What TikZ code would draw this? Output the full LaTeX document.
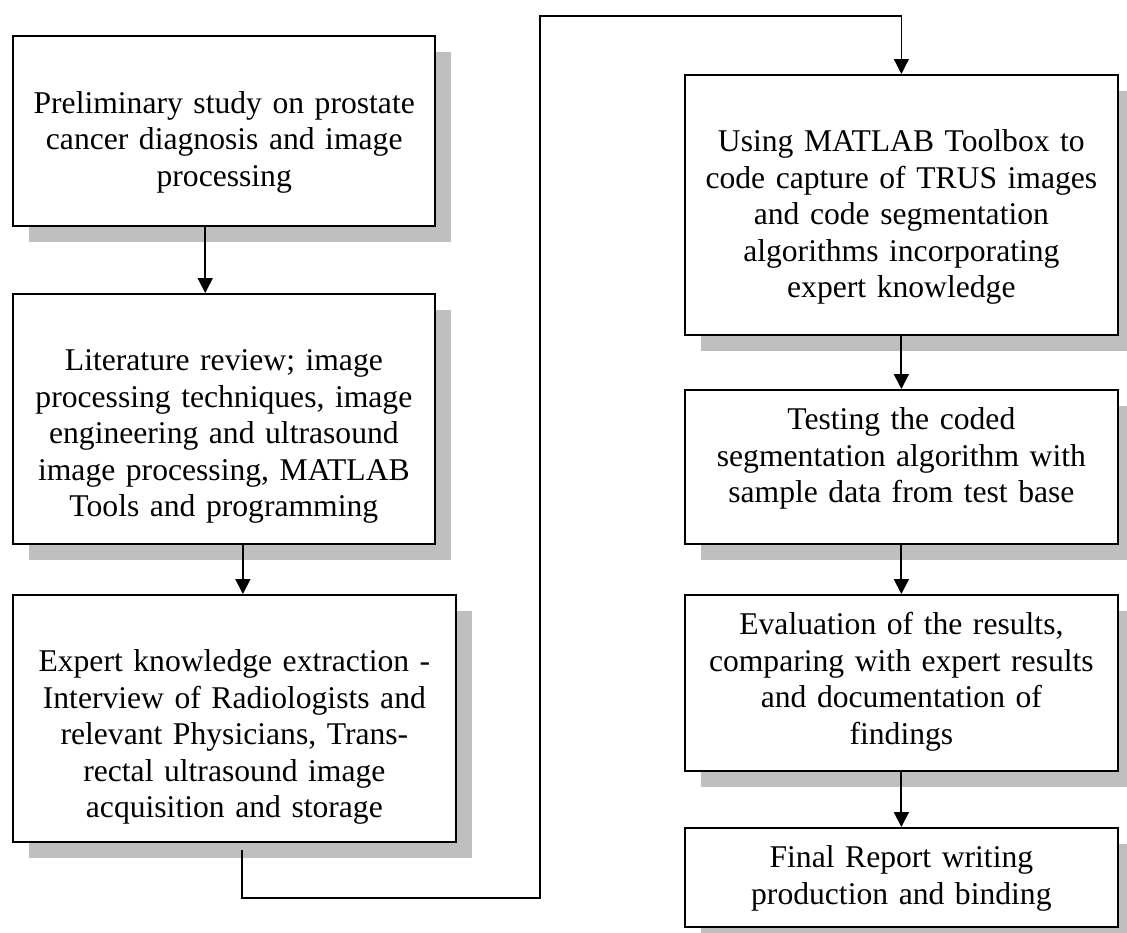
\documentclass[tikz,border=0pt]{standalone}
\usepackage{fontspec}
\setmainfont{Liberation Serif}
\usetikzlibrary{arrows.meta,shadows}

\tikzset{
    stepbox/.style={draw, line width=1pt, fill=white, align=center, inner sep=0pt,
        anchor=north west, text height=0.8cm,
        font=\fontsize{18}{20.77}\selectfont,
        drop shadow={shadow xshift=0.32cm, shadow yshift=-0.32cm, fill=black!25, opacity=1}},
    gapbox/.style={stepbox, text height=1.54cm},
    flow/.style={line width=1.1pt, -{Triangle[length=0.3cm,width=0.3cm]}},
    link/.style={line width=0.7pt, -{Triangle[length=0.3cm,width=0.3cm]}}
}

\begin{document}
\begin{tikzpicture}
        \useasboundingbox (0,0) rectangle (22.54,-18.64);
        % left column
        \node[gapbox, line width=1.4pt, minimum width=8.44cm, text width=8.2cm, text depth=2.26cm] (prelim) at (0.24,-0.70)
            {Preliminary study on prostate\\cancer diagnosis and image\\processing};
        \node[gapbox, minimum width=8.44cm, text width=8.2cm, text depth=3.46cm] (review) at (0.24,-5.86)
            {Literature review; image\\processing techniques, image\\engineering and ultrasound\\image processing, MATLAB\\Tools and programming};
        \node[gapbox, minimum width=8.86cm, text width=8.6cm, text depth=3.40cm] (expert) at (0.24,-11.88)
            {Expert knowledge extraction -\\Interview of Radiologists and\\relevant Physicians, Trans-\\rectal ultrasound image\\acquisition and storage};
        % right column
        \node[gapbox, minimum width=8.66cm, text width=8.4cm, text depth=3.66cm] (coding) at (13.68,-1.48)
            {Using MATLAB Toolbox to\\code capture of TRUS images\\and code segmentation\\algorithms incorporating\\expert knowledge};
        \node[stepbox, minimum width=8.66cm, text width=8.4cm, text depth=2.28cm] (testing) at (13.68,-7.78)
            {Testing the coded\\segmentation algorithm with\\sample data from test base};
        \node[stepbox, minimum width=8.66cm, text width=8.4cm, text depth=2.72cm] (eval) at (13.68,-11.88)
            {Evaluation of the results,\\comparing with expert results\\and documentation of\\findings};
        \node[stepbox, minimum width=8.66cm, text width=8.4cm, text depth=1.18cm] (report) at (13.68,-16.54)
            {Final Report writing\\production and binding};

        \draw[flow] ([xshift=-0.38cm]prelim.south) -- ([xshift=-0.38cm]prelim.south |- review.north);
        \draw[flow] ([xshift=0.38cm]review.south) -- ([xshift=0.38cm]review.south |- expert.north);

        \coordinate (out) at (4.84,-17.0);
        \coordinate (turn) at (10.8,-17.96);
        \coordinate (top) at (10.8,-0.32);
        \draw[link] (out) |- (turn) -- (top) -| (coding.north);

        \draw[flow] (coding) -- (testing);
        \draw[flow] (testing) -- (eval);
        \draw[flow] (eval) -- (report);
    \end{tikzpicture}
\end{document}
